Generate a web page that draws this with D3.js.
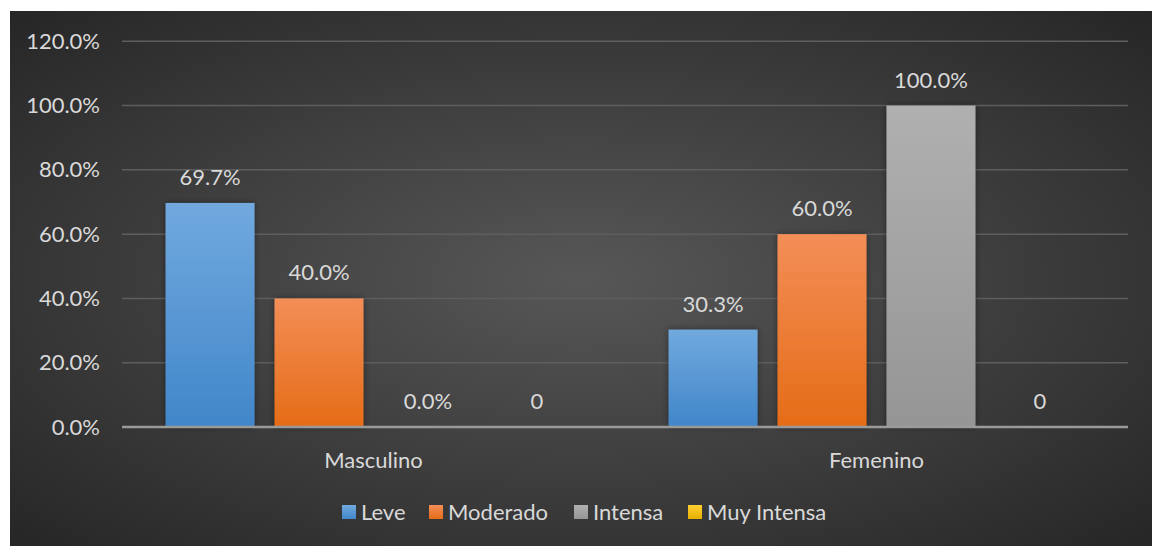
<!DOCTYPE html>
<html>
<head>
<meta charset="utf-8">
<script src="https://cdn.jsdelivr.net/npm/d3@7"></script>
<style>
  body { margin: 0; background: #fff; }
  svg { display: block; }
  text { font-family: Lato, "Open Sans", sans-serif; fill: #d9d9d9; }
</style>
</head>
<body>
<div id="chart"></div>
<script>
// chart data
var categories = ["Masculino", "Femenino"];
var series = ["Leve", "Moderado", "Intensa", "Muy Intensa"];
var values = {
  "Leve":        [0.697, 0.303],
  "Moderado":    [0.40, 0.60],
  "Intensa":     [0.0, 1.0],
  "Muy Intensa": [0.0, 0.0]
};
var labels = {
  "Leve":        ["69.7%", "30.3%"],
  "Moderado":    ["40.0%", "60.0%"],
  "Intensa":     ["0.0%", "100.0%"],
  "Muy Intensa": ["0", "0"]
};
var yTicks = [0, 0.2, 0.4, 0.6, 0.8, 1.0, 1.2];

// colours: top / bottom of each bar gradient
var colors = {
  "Leve":        ["#71a9de", "#4186c9"],
  "Moderado":    ["#f38e57", "#e56c16"],
  "Intensa":     ["#b0b0b0", "#959595"],
  "Muy Intensa": ["#ffcf33", "#e6b000"]
};

var W = 1153, H = 546;
var FS = 22;
var svg = d3.select("#chart").append("svg")
  .attr("width", W)
  .attr("height", H);

var defs = svg.append("defs");

var bg = defs.append("radialGradient")
  .attr("id", "bg")
  .attr("cx", "50%").attr("cy", "50%").attr("r", "75%");
bg.append("stop").attr("offset", "0%").attr("stop-color", "#575757");
bg.append("stop").attr("offset", "100%").attr("stop-color", "#232323");

series.forEach(function(s, i) {
  var g = defs.append("linearGradient")
    .attr("id", "g" + i)
    .attr("x1", 0).attr("y1", 0).attr("x2", 0).attr("y2", 1);
  g.append("stop").attr("offset", "0%").attr("stop-color", colors[s][0]);
  g.append("stop").attr("offset", "100%").attr("stop-color", colors[s][1]);
});

var shadow = defs.append("filter")
  .attr("id", "shadow")
  .attr("x", "-20%").attr("y", "-20%").attr("width", "140%").attr("height", "140%");
shadow.append("feDropShadow")
  .attr("dx", 0).attr("dy", 0)
  .attr("stdDeviation", 3)
  .attr("flood-color", "#000")
  .attr("flood-opacity", 0.45);

// background panel
svg.append("rect")
  .attr("x", 10).attr("y", 11)
  .attr("width", W - 11).attr("height", H - 11)
  .attr("fill", "url(#bg)");

var plotLeft = 122, plotRight = 1128, plotTop = 41.3, plotBottom = 427;

var x = d3.scaleBand()
  .domain(categories)
  .range([plotLeft, plotRight]);

var xInner = d3.scaleBand()
  .domain(series)
  .range([0, x.bandwidth()])
  .paddingInner(0.1836)
  .paddingOuter(0.4);

var y = d3.scaleLinear()
  .domain([0, 1.2])
  .range([plotBottom, plotTop]);

// gridlines
svg.append("g")
  .selectAll("line")
  .data(yTicks.slice(1))
  .enter()
  .append("line")
  .attr("x1", plotLeft).attr("x2", plotRight)
  .attr("y1", function(d) { return y(d); })
  .attr("y2", function(d) { return y(d); })
  .attr("stroke", "#5e5e5e")
  .attr("stroke-width", 1.5);

// y axis labels
var yAxis = d3.axisLeft(y)
  .tickValues(yTicks)
  .tickFormat(d3.format(".1%"))
  .tickSize(0)
  .tickPadding(0);

var yg = svg.append("g")
  .attr("transform", "translate(100,0)")
  .call(yAxis);
yg.select(".domain").remove();
yg.selectAll("text")
  .attr("font-size", FS)
  .attr("fill", "#d9d9d9")
  .style("font-family", "Lato, sans-serif");

// bars
var groups = svg.append("g")
  .selectAll("g")
  .data(categories)
  .enter()
  .append("g")
  .attr("transform", function(d) { return "translate(" + x(d) + ",0)"; });

function rows(c, ci) {
  return series.map(function(s, si) {
    return { s: s, si: si, v: values[s][ci], label: labels[s][ci] };
  });
}

groups.selectAll("rect")
  .data(rows)
  .enter()
  .append("rect")
  .filter(function(d) { return d.v > 0; })
  .attr("x", function(d) { return xInner(d.s); })
  .attr("y", function(d) { return y(d.v); })
  .attr("width", xInner.bandwidth())
  .attr("height", function(d) { return y(0) - y(d.v); })
  .attr("fill", function(d) { return "url(#g" + d.si + ")"; })
  .attr("filter", "url(#shadow)");

groups.selectAll("text.lbl")
  .data(rows)
  .enter()
  .append("text")
  .attr("class", "lbl")
  .attr("x", function(d) { return xInner(d.s) + xInner.bandwidth() / 2; })
  .attr("y", function(d) { return y(d.v) - 18; })
  .attr("text-anchor", "middle")
  .attr("font-size", FS)
  .text(function(d) { return d.label; });

// baseline
svg.append("line")
  .attr("x1", plotLeft).attr("x2", plotRight)
  .attr("y1", y(0)).attr("y2", y(0))
  .attr("stroke", "#9a9a9a")
  .attr("stroke-width", 2.5);

// category labels
var xAxis = d3.axisBottom(x).tickSize(0).tickPadding(0);
var xg = svg.append("g")
  .attr("transform", "translate(0," + (plotBottom + 41) + ")")
  .call(xAxis);
xg.select(".domain").remove();
xg.selectAll("text")
  .attr("font-size", FS)
  .attr("dy", 0)
  .attr("fill", "#d9d9d9")
  .style("font-family", "Lato, sans-serif");

// legend
var legendX = [342, 429, 574, 688];
var legend = svg.append("g")
  .selectAll("g")
  .data(series)
  .enter()
  .append("g")
  .attr("transform", function(d, i) { return "translate(" + legendX[i] + ",505)"; });

legend.append("rect")
  .attr("width", 14).attr("height", 14)
  .attr("fill", function(d, i) { return "url(#g" + i + ")"; });

legend.append("text")
  .attr("x", 19)
  .attr("y", 14.5)
  .attr("font-size", FS)
  .text(function(d) { return d; });
</script>
</body>
</html>
